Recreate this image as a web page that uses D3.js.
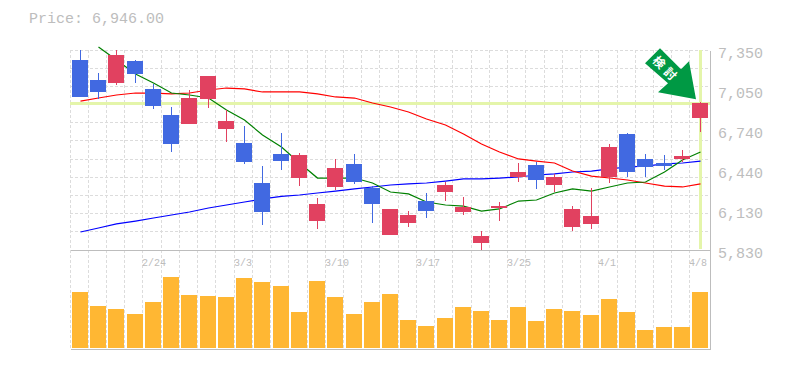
<!DOCTYPE html>
<html lang="en">
<head>
    <meta charset="UTF-8">
    <title>Price chart</title>
    <script src="https://d3js.org/d3.v7.min.js"></script>
    <style>
        body { margin: 0; background: #fff; }
        svg { display: block; }
        text { font-family: "Liberation Mono", monospace; fill: #bdbdbd; }
    </style>
</head>
<body>
    <svg width="785" height="370"></svg>

    <script>
        const dates = ['2/18', '2/19', '2/20', '2/21', '2/24', '2/25', '2/26', '2/27', '2/28', '3/3', '3/4', '3/5',
            '3/6', '3/7', '3/10', '3/11', '3/12', '3/13', '3/14', '3/17', '3/18', '3/19', '3/21', '3/24', '3/25',
            '3/26', '3/27', '3/28', '3/31', '4/1', '4/2', '4/3', '4/4', '4/7', '4/8'];
        const dateTicks = ['2/24', '3/3', '3/10', '3/17', '3/25', '4/1', '4/8'];
        const priceTicks = [7350, 7046, 6742, 6438, 6134, 5830];

        const opens = [7274, 7122, 7099, 7266, 7054, 6856, 6788, 6978, 6750, 6643, 6339, 6560,
            6377, 6050, 6309, 6484, 6301, 5944, 6035, 6202, 6271, 6119, 5883, 6149, 6385,
            6476, 6324, 6005, 6028, 6385, 6712, 6522, 6491, 6522, 6833];
        const closes = [6993, 7031, 7312, 7168, 6924, 6636, 6985, 7152, 6810, 6499, 6119, 6506,
            6552, 6180, 6453, 6347, 6180, 6142, 6096, 6126, 6324, 6157, 5936, 6164, 6423,
            6362, 6385, 6142, 6088, 6613, 6423, 6461, 6468, 6544, 6946];
        const highs = [7350, 7175, 7350, 7274, 7092, 6917, 7046, 7152, 6894, 6772, 6468, 6719,
            6567, 6225, 6522, 6560, 6316, 6142, 6126, 6263, 6347, 6233, 5974, 6195, 6491,
            6499, 6408, 6164, 6301, 6636, 6719, 6560, 6552, 6590, 6955];
        const lows = [6993, 6980, 7084, 7099, 6902, 6575, 6788, 6909, 6651, 6484, 6020, 6438,
            6316, 5990, 6286, 6332, 6035, 5944, 6005, 6073, 6202, 6096, 5830, 6050, 6347,
            6294, 6271, 5974, 5990, 6339, 6385, 6385, 6438, 6499, 6727];
        const volume = [560, 420, 390, 340, 460, 710, 530, 520, 510, 700, 660, 620,
            360, 670, 510, 340, 460, 540, 280, 220, 300, 410, 370, 280, 410,
            270, 390, 370, 330, 490, 360, 180, 210, 210, 560];

        const maShort = [null, 7373, 7274, 7168, 7099, 7023, 7008, 6985, 6894, 6818, 6704, 6613,
            6491, 6377, 6377, 6377, 6339, 6271, 6256, 6195, 6172, 6164, 6126, 6142, 6202,
            6210, 6263, 6294, 6278, 6309, 6339, 6347, 6423, 6514, 6575];
        const maMid = [6962, 6985, 7008, 7023, 7023, 7016, 7023, 7046, 7061, 7054, 7031, 7031,
            7031, 7016, 6993, 6985, 6947, 6917, 6879, 6826, 6780, 6712, 6636, 6575, 6522,
            6506, 6491, 6430, 6392, 6377, 6362, 6339, 6316, 6309, 6332];
        const maLong = [5967, 5997, 6028, 6050, 6073, 6096, 6119, 6149, 6172, 6195, 6218, 6237,
            6248, 6263, 6278, 6294, 6309, 6324, 6332, 6339, 6354, 6370, 6370, 6377, 6385,
            6400, 6408, 6423, 6430, 6446, 6461, 6468, 6484, 6491, 6506];

        const lastPrice = 6946;
        const markerLabel = '検討';

        const plotLeft = 70, plotRight = 710, plotTop = 50, plotMid = 250, plotBottom = 349;
        const volumeBase = 348;
        const gridRows = 11;
        const gridColor = '#dcdcdc';
        const frameColor = '#bdbdbd';
        const highlight = '#e4f5aa';
        const upColor = '#e14160';
        const downColor = '#4169e1';

        const svg = d3.select('svg').attr('shape-rendering', 'crispEdges');

        const xScale = d3.scaleBand()
            .domain(dates)
            .range([71, 71 + 18.235 * dates.length]);
        const centre = d => Math.round(xScale(d)) + 9;
        const gridX = d => Math.floor(xScale(d) - 1);

        const yScale = d3.scaleLinear().domain([5830, 7350]).range([plotMid, plotTop]);
        const volumeScale = d3.scaleLinear().domain([0, 800]).range([volumeBase, volumeBase - 80]);

        // grid
        const grid = svg.append('g')
            .attr('stroke', gridColor)
            .attr('stroke-dasharray', '3,2');
        grid.selectAll('.gy')
            .data(d3.range(0, gridRows))
            .enter().append('line')
            .attr('x1', plotLeft).attr('x2', plotRight)
            .attr('y1', i => Math.floor(plotTop + i * (plotMid - plotTop) / gridRows) + 0.5)
            .attr('y2', i => Math.floor(plotTop + i * (plotMid - plotTop) / gridRows) + 0.5);
        grid.selectAll('.gx')
            .data(dates)
            .enter().append('line')
            .attr('x1', d => gridX(d) + 0.5).attr('x2', d => gridX(d) + 0.5)
            .attr('y1', plotTop).attr('y2', plotBottom);

        // frame
        const frame = svg.append('g').attr('stroke', frameColor);
        [[plotLeft, plotMid, plotRight, plotMid], [plotLeft, plotBottom, plotRight, plotBottom], [plotRight, plotTop, plotRight, plotBottom]].forEach(p => {
            frame.append('line')
                .attr('x1', p[0] + 0.5).attr('y1', p[1] + 0.5)
                .attr('x2', p[2] + 0.5).attr('y2', p[3] + 0.5);
        });

        // current price guides
        const lastX = centre(dates[dates.length - 1]);
        svg.append('rect')
            .attr('x', plotLeft).attr('y', Math.round(yScale(lastPrice)) - 1)
            .attr('width', plotRight - plotLeft).attr('height', 3)
            .attr('fill', highlight);
        svg.append('rect')
            .attr('x', lastX - 1).attr('y', plotTop)
            .attr('width', 3).attr('height', volumeBase - 99 - plotTop)
            .attr('fill', highlight);

        // moving averages
        const maLine = d3.line()
            .defined(d => d[1] !== null)
            .x(d => centre(d[0]) + 0.5)
            .y(d => yScale(d[1]));
        [[maLong, '#0000ff'], [maMid, '#ff0000'], [maShort, '#008000']].forEach(s => {
            svg.append('path')
                .datum(d3.zip(dates, s[0]))
                .attr('d', maLine)
                .attr('fill', 'none')
                .attr('stroke', s[1])
                .attr('stroke-width', 1.2)
                .attr('shape-rendering', 'auto');
        });

        // candles
        const candleColor = i => closes[i] >= opens[i] ? upColor : downColor;
        const candles = svg.append('g');
        candles.selectAll('.wick')
            .data(dates)
            .enter().append('rect')
            .attr('x', d => centre(d))
            .attr('y', (d, i) => Math.round(yScale(highs[i])))
            .attr('width', 1)
            .attr('height', (d, i) => Math.round(yScale(lows[i])) - Math.round(yScale(highs[i])))
            .attr('fill', (d, i) => candleColor(i));
        candles.selectAll('.body')
            .data(dates)
            .enter().append('rect')
            .attr('x', d => Math.round(xScale(d)) + 1)
            .attr('y', (d, i) => Math.round(yScale(Math.max(opens[i], closes[i]))))
            .attr('width', 16)
            .attr('height', (d, i) => Math.round(yScale(Math.min(opens[i], closes[i]))) - Math.round(yScale(Math.max(opens[i], closes[i]))))
            .attr('fill', (d, i) => candleColor(i));

        // volume
        svg.append('g').selectAll('rect')
            .data(dates)
            .enter().append('rect')
            .attr('x', d => Math.round(xScale(d)) + 1)
            .attr('y', (d, i) => volumeScale(volume[i]))
            .attr('width', 16)
            .attr('height', (d, i) => volumeBase - volumeScale(volume[i]))
            .attr('fill', '#ffb733');

        // axis labels
        svg.append('text')
            .attr('x', 29).attr('y', 23)
            .attr('font-size', 15)
            .text('Price: ' + d3.format(',.2f')(lastPrice));
        svg.selectAll('.price-label')
            .data(priceTicks)
            .enter().append('text')
            .attr('x', 718)
            .attr('y', d => yScale(d) + 8)
            .attr('font-size', 15)
            .text(d => d3.format(',')(Math.round(d / 10) * 10));
        svg.selectAll('.date-label')
            .data(dateTicks)
            .enter().append('text')
            .attr('x', d => gridX(d))
            .attr('y', 266)
            .attr('font-size', 10)
            .text(d => d);

        // arrow marker, placed relative to the last candle
        const tip = [lastX - 4, yScale(lastPrice) - 4];
        const arrowShape = [[-36, -51], [-51, -36], [-28, -16], [-38, -7], [0, 0], [-7, -38], [-15, -30]];
        svg.append('polygon')
            .attr('points', arrowShape.map(p => [tip[0] + p[0], tip[1] + p[1]].join(',')).join(' '))
            .attr('fill', '#009944')
            .attr('shape-rendering', 'auto');
        svg.append('text')
            .attr('transform', `translate(${tip[0] - 30},${tip[1] - 29.5}) rotate(45)`)
            .attr('text-anchor', 'middle')
            .attr('dy', '0.35em')
            .style('font-size', '12px')
            .style('letter-spacing', '4px')
            .style('font-weight', 'bold')
            .style('font-family', '"Noto Sans CJK JP"')
            .style('fill', '#fff')
            .text(markerLabel);
    </script>
</body>
</html>
